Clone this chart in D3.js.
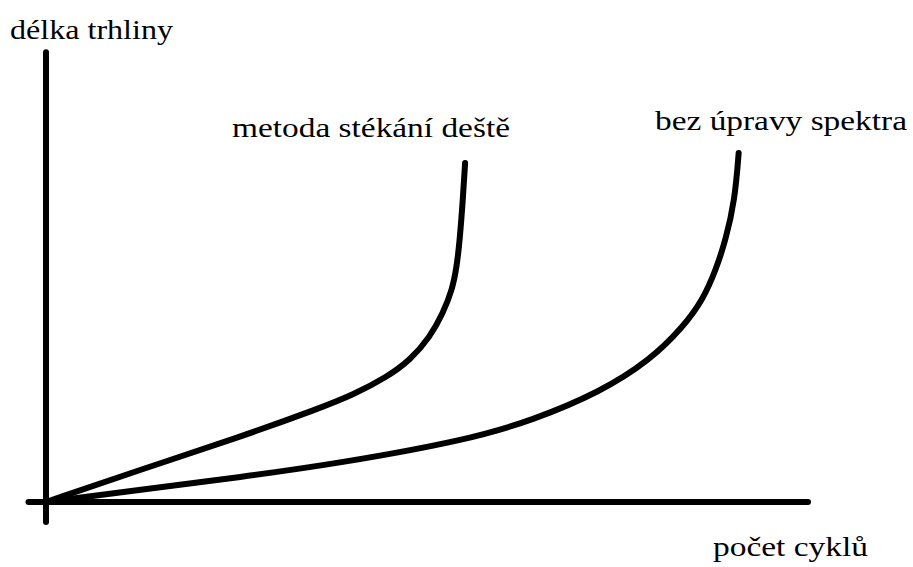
<!DOCTYPE html>
<html>
<head>
<meta charset="utf-8">
<script src="https://cdn.jsdelivr.net/npm/d3@7"></script>
<style>
body { margin: 0; background: #fff; }
</style>
</head>
<body>
<svg id="chart"></svg>
<script>
// cycles (x) and crack length (y), arbitrary units 0-100
const rainflowX = [0, 12.3, 25.5, 36.0, 40.3, 44.8, 47.8, 50.4, 52.1, 53.3, 53.9, 54.3, 54.7, 55.0];
const rainflowY = [0, 7.1, 14.4, 20.8, 23.7, 27.7, 31.4, 36.5, 41.8, 46.9, 52.0, 58.0, 66.8, 75.0];
const plainX = [0, 12.3, 25.5, 38.6, 55.2, 63.9, 72.7, 79.3, 83.6, 86.2, 87.9, 89.2, 90.4, 90.9];
const plainY = [0, 2.7, 5.5, 8.6, 13.7, 18.1, 24.3, 31.4, 38.7, 44.7, 51.3, 58.0, 66.8, 77.2];

const seriesNames = ["metoda stékání deště", "bez úpravy spektra"];
const axisTitles = ["délka trhliny", "počet cyklů"];

const width = 913, height = 567;
const serif = '"Liberation Serif", "DejaVu Serif", "Times New Roman", Times, serif';

const svg = d3.select('#chart')
.attr('width', width)
.attr('height', height);

const x = d3.scaleLinear().domain([0, 100]).range([46, 808]);
const y = d3.scaleLinear().domain([0, 100]).range([502, 50]);

// axes, drawn as plain strokes
svg.append('line')
.attr('x1', x(0)).attr('x2', x(0))
.attr('y1', y(-4.4)).attr('y2', y(99.5))
.attr('stroke', '#000').attr('stroke-width', 6).attr('stroke-linecap', 'round');

svg.append('line')
.attr('x1', x(-2.3)).attr('x2', x(100))
.attr('y1', y(0)).attr('y2', y(0))
.attr('stroke', '#000').attr('stroke-width', 6).attr('stroke-linecap', 'round');

const line = d3.line()
.x(d => x(d[0]))
.y(d => y(d[1]))
.curve(d3.curveBasis);

[[rainflowX, rainflowY], [plainX, plainY]].map(s => {
	svg.append('path')
	.datum(s[0].map((v, i) => [v, s[1][i]]))
	.attr('d', line)
	.attr('fill', 'none')
	.attr('stroke', '#000')
	.attr('stroke-width', 6)
	.attr('stroke-linecap', 'round');
})

// text, x, baseline, width in the reference
const labels = [
	[axisTitles[0], 10, 39, 163],
	[axisTitles[1], 713, 556, 155],
	[seriesNames[0], 232, 137, 278],
	[seriesNames[1], 655, 130, 252]
];

labels.map(l => {
	svg.append('text')
	.attr('x', l[1])
	.attr('y', l[2])
	.attr('font-family', serif)
	.style('font-family', serif)
	.attr('font-size', 27)
	.attr('textLength', l[3])
	.attr('lengthAdjust', 'spacingAndGlyphs')
	.attr('fill', '#000')
	.text(l[0]);
})
</script>
</body>
</html>
